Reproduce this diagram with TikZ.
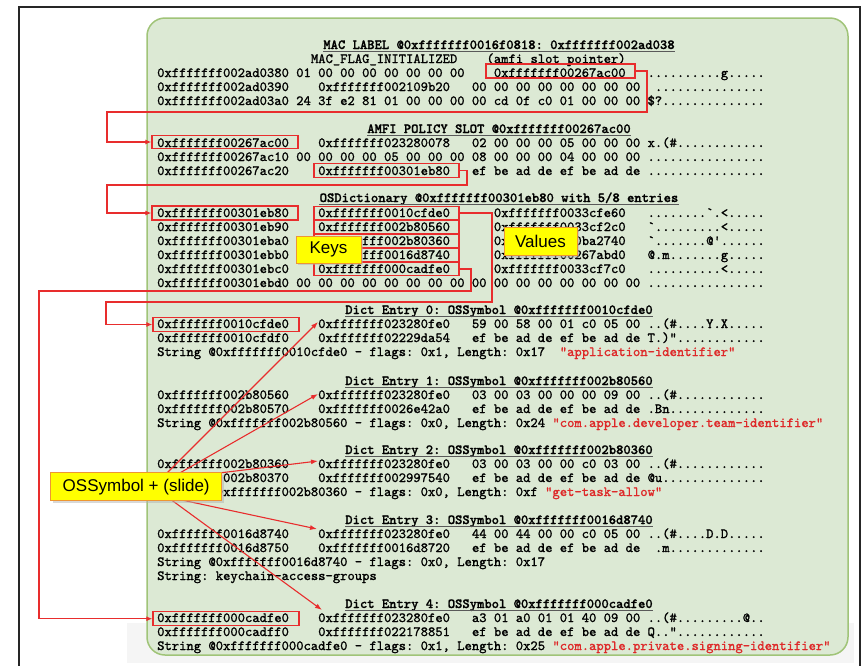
\documentclass[tikz,border=0pt]{standalone}
\usepackage{fontspec}
\newfontfamily\code{lmmono10-regular.otf}[FakeBold=1.3]
\newfontfamily\codeb{lmmonolt10-bold.otf}[FakeBold=1.2]
\newfontfamily\labfont{Liberation Sans}
\usetikzlibrary{arrows.meta,shadows}
\definecolor{redc}{RGB}{232,45,45}
\definecolor{strred}{RGB}{222,40,40}
\definecolor{gfill}{RGB}{220,233,212}
\definecolor{gdraw}{RGB}{160,196,120}
\definecolor{ylw}{RGB}{255,255,0}
\definecolor{ylwdraw}{RGB}{238,150,50}
\newcounter{segc}
\newcounter{ttlc}
\newcommand\putseg[4][]{\stepcounter{segc}\node[txt,#1] (s\arabic{segc}) at ({157+#2*7.32},#3) {#4};}
\newcommand\putttl[2]{\stepcounter{ttlc}\node[ttl] (t\arabic{ttlc}) at (499,#1) {#2};
  \draw[black!65,line width=1.1pt] ([yshift=-2.6pt]t\arabic{ttlc}.base west) -- ([yshift=-2.6pt]t\arabic{ttlc}.base east);}
\frenchspacing
\begin{document}
\begin{tikzpicture}[x=1pt,y=-1pt,
  txt/.style={anchor=base west,inner sep=0pt,font={\code\fontsize{13.94pt}{14pt}\selectfont\frenchspacing}},
  ttl/.style={anchor=base,inner sep=0pt,font={\codeb\fontsize{13.94pt}{14pt}\selectfont\frenchspacing}},
  rbox/.style={draw=redc,line width=1.3pt,inner sep=0pt},
  conn/.style={draw=redc,line width=1.3pt,-{Latex[length=6pt,width=5pt]}},
  sarr/.style={draw=redc,line width=1.1pt,-{Latex[length=7pt,width=5pt]}},
  ylab/.style={fill=ylw,draw=ylwdraw,line width=0.8pt,inner sep=0pt,
    font={\labfont\fontsize{17pt}{20pt}\selectfont},
    drop shadow={shadow xshift=2pt,shadow yshift=-2pt,fill=black!30}}]
\useasboundingbox (0,0) rectangle (863,665);
\fill[white] (0,0) rectangle (863,665);
\fill[black!4] (127,623) rectangle (854,663);
\draw[black!85,line width=2pt] (19,7) rectangle (860,690);
\draw[fill=gfill,draw=gdraw,line width=1.5pt,rounded corners=18pt] (147,18) rectangle (848,655);

% MAC LABEL block
\putttl{49}{MAC LABEL @0xfffffff0016f0818: 0xfffffff002ad038}
\putseg{21}{63}{MAC\_FLAG\_INITIALIZED}
\putseg{45}{63}{(amfi slot pointer)}
\putseg{0}{77}{0xfffffff002ad0380 01 00 00 00 00 00 00 00}
\putseg{46}{77}{0xfffffff00267ac00}
\putseg{67}{77}{..........g.....}
\putseg{0}{91}{0xfffffff002ad0390}
\putseg{22}{91}{0xfffffff002109b20}
\putseg{43}{91}{00 00 00 00 00 00 00 00}
\putseg{68}{91}{...............}
\putseg{0}{105}{0xfffffff002ad03a0 24 3f e2 81 01 00 00 00 00 cd 0f c0 01 00 00 00 \$?..............}

% AMFI block
\putttl{133}{AMFI POLICY SLOT @0xfffffff00267ac00}
\putseg{0}{147}{0xfffffff00267ac00}
\putseg{22}{147}{0xfffffff023280078}
\putseg{43}{147}{02 00 00 00 05 00 00 00 x.(\#............}
\putseg{0}{161}{0xfffffff00267ac10 00 00 00 00 05 00 00 00 08 00 00 00 04 00 00 00 ................}
\putseg{0}{175}{0xfffffff00267ac20}
\putseg{22}{175}{0xfffffff00301eb80}
\putseg{43}{175}{ef be ad de ef be ad de ................}

% OSDictionary block
\putttl{202}{OSDictionary @0xfffffff00301eb80 with 5/8 entries}
\putseg{0}{217}{0xfffffff00301eb80}
\putseg{22}{217}{0xfffffff0010cfde0}
\putseg{46}{217}{0xfffffff0033cfe60}
\putseg{67}{217}{........\textasciigrave.<.....}
\putseg{0}{231}{0xfffffff00301eb90}
\putseg{22}{231}{0xfffffff002b80560}
\putseg{46}{231}{0xfffffff0033cf2c0}
\putseg{67}{231}{\textasciigrave.........<.....}
\putseg{0}{245}{0xfffffff00301eba0}
\putseg{22}{245}{0xfffffff002b80360}
\putseg{46}{245}{0xfffffff000ba2740}
\putseg{67}{245}{\textasciigrave.......@\textquotesingle......}
\putseg{0}{259}{0xfffffff00301ebb0}
\putseg{22}{259}{0xfffffff0016d8740}
\putseg{46}{259}{0xfffffff00267abd0}
\putseg{67}{259}{@.m.......g.....}
\putseg{0}{273}{0xfffffff00301ebc0}
\putseg{22}{273}{0xfffffff000cadfe0}
\putseg{46}{273}{0xfffffff0033cf7c0}
\putseg{67}{273}{..........<.....}
\putseg{0}{287}{0xfffffff00301ebd0 00 00 00 00 00 00 00 00 00 00 00 00 00 00 00 00 ................}

% Dict Entry 0
\putttl{314}{Dict Entry 0: OSSymbol @0xfffffff0010cfde0}
\putseg{0}{328}{0xfffffff0010cfde0}
\putseg{22}{328}{0xfffffff023280fe0}
\putseg{43}{328}{59 00 58 00 01 c0 05 00 ..(\#....Y.X.....}
\putseg{0}{342}{0xfffffff0010cfdf0}
\putseg{22}{342}{0xfffffff02229da54}
\putseg{43}{342}{ef be ad de ef be ad de T.)"............}
\putseg{0}{356}{String @0xfffffff0010cfde0 - flags: 0x1, Length: 0x17}
\putseg[text=strred]{55}{356}{"application-identifier"}

% Dict Entry 1
\putttl{385}{Dict Entry 1: OSSymbol @0xfffffff002b80560}
\putseg{0}{399}{0xfffffff002b80560}
\putseg{22}{399}{0xfffffff023280fe0}
\putseg{43}{399}{03 00 03 00 00 00 09 00 ..(\#............}
\putseg{0}{413}{0xfffffff002b80570}
\putseg{22}{413}{0xfffffff0026e42a0}
\putseg{43}{413}{ef be ad de ef be ad de .Bn.............}
\putseg{0}{427}{String @0xfffffff002b80560 - flags: 0x0, Length: 0x24}
\putseg[text=strred]{54}{427}{"com.apple.developer.team-identifier"}

% Dict Entry 2
\putttl{454}{Dict Entry 2: OSSymbol @0xfffffff002b80360}
\putseg{0}{468}{0xfffffff002b80360}
\putseg{22}{468}{0xfffffff023280fe0}
\putseg{43}{468}{03 00 03 00 00 c0 03 00 ..(\#............}
\putseg{0}{482}{0xfffffff002b80370}
\putseg{22}{482}{0xfffffff002997540}
\putseg{43}{482}{ef be ad de ef be ad de @u..............}
\putseg{0}{496}{String @0xfffffff002b80360 - flags: 0x0, Length: 0xf}
\putseg[text=strred]{53}{496}{"get-task-allow"}

% Dict Entry 3
\putttl{524}{Dict Entry 3: OSSymbol @0xfffffff0016d8740}
\putseg{0}{538}{0xfffffff0016d8740}
\putseg{22}{538}{0xfffffff023280fe0}
\putseg{43}{538}{44 00 44 00 00 c0 05 00 ..(\#....D.D.....}
\putseg{0}{552}{0xfffffff0016d8750}
\putseg{22}{552}{0xfffffff0016d8720}
\putseg{43}{552}{ef be ad de ef be ad de}
\putseg{68}{552}{.m.............}
\putseg{0}{566}{String @0xfffffff0016d8740 - flags: 0x0, Length: 0x17}
\putseg{0}{580}{String: keychain-access-groups}

% Dict Entry 4
\putttl{608}{Dict Entry 4: OSSymbol @0xfffffff000cadfe0}
\putseg{0}{622}{0xfffffff000cadfe0}
\putseg{22}{622}{0xfffffff023280fe0}
\putseg{43}{622}{a3 01 a0 01 01 40 09 00 ..(\#.........@..}
\putseg{0}{636}{0xfffffff000cadff0}
\putseg{22}{636}{0xfffffff022178851}
\putseg{43}{636}{ef be ad de ef be ad de Q.."............}
\putseg{0}{650}{String @0xfffffff000cadfe0 - flags: 0x1, Length: 0x25}
\putseg[text=strred]{54}{650}{"com.apple.private.signing-identifier"}

% red boxes
\node[rbox,minimum width=149pt,minimum height=14pt] (b380) at (560.5,71) {};
\node[rbox,minimum width=146pt,minimum height=13pt] (bac00) at (225,142) {};
\node[rbox,minimum width=145pt,minimum height=13.5pt] (beba) at (386.5,170.5) {};
\node[rbox,minimum width=146pt,minimum height=14pt] (bebb) at (225,213) {};
\node[rbox,minimum width=145pt,minimum height=13pt] (k0) at (386.5,213) {};
\node[rbox,minimum width=145pt,minimum height=13pt] (k1) at (386.5,227) {};
\node[rbox,minimum width=145pt,minimum height=13pt] (k2) at (386.5,241) {};
\node[rbox,minimum width=145pt,minimum height=13pt] (k3) at (386.5,255) {};
\node[rbox,minimum width=145pt,minimum height=13pt] (k4) at (386.5,269) {};
\node[rbox,minimum width=146pt,minimum height=13.5pt] (bcfde) at (226,324.5) {};
\node[rbox,minimum width=146pt,minimum height=14pt] (bcadf) at (226,618.7) {};

% connectors
\coordinate (c1a) at (647,112); \coordinate (c1b) at (107,112);
\coordinate (c2a) at (467,185); \coordinate (c2b) at (107,185);
\coordinate (c3a) at (492,302); \coordinate (c3b) at (106,302);
\coordinate (c4a) at (471,291); \coordinate (c4b) at (39,291);
\draw[conn] (b380.east) -| (c1a) -- (c1b) |- (bac00.west);
\draw[conn] (beba.east) -| (c2a) -- (c2b) |- (bebb.west);
\draw[conn] (k0.east) -| (c3a) -- (c3b) |- (bcfde.west);
\draw[conn] (k4.east) -| (c4a) -- (c4b) |- (bcadf.west);

% OSSymbol arrows
\coordinate (o0) at (162,478); \coordinate (o1) at (171,478); \coordinate (o2) at (178,478);
\coordinate (o3) at (163,496); \coordinate (o4) at (166,496);
\coordinate (e0) at (318,322); \coordinate (e1) at (318,394); \coordinate (e2) at (318,461);
\coordinate (e3) at (317,529); \coordinate (e4) at (322,610);
\draw[sarr] (o0) -- (e0);
\draw[sarr] (o1) -- (e1);
\draw[sarr] (o2) -- (e2);
\draw[sarr] (o3) -- (e3);
\draw[sarr] (o4) -- (e4);

% yellow labels
\node[ylab,minimum width=65pt,minimum height=27pt] (keys) at (328.5,249.5) {Keys};
\node[ylab,minimum width=73pt,minimum height=28pt] (vals) at (540.5,241.5) {Values};
\node[ylab,minimum width=171pt,minimum height=28pt] (osym) at (136.2,486.7) {OSSymbol + (slide)};
\end{tikzpicture}
\end{document}
